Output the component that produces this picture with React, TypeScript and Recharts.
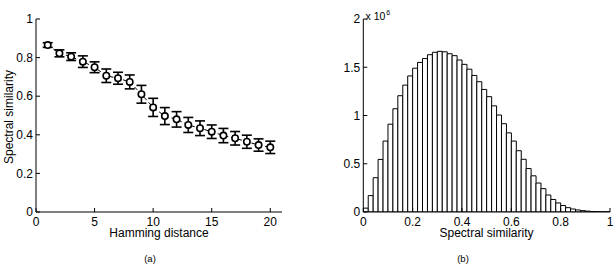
import React from "react";
import { Bar, ComposedChart, ErrorBar, Line, XAxis, YAxis } from "recharts";

// (a) spectral similarity vs hamming distance
const hamming = [1, 2, 3, 4, 5, 6, 7, 8, 9, 10, 11, 12, 13, 14, 15, 16, 17, 18, 19, 20];
const similarity = [
  0.865, 0.822, 0.805, 0.779, 0.75, 0.706, 0.693, 0.674, 0.61, 0.542,
  0.497, 0.48, 0.451, 0.434, 0.416, 0.396, 0.382, 0.364, 0.347, 0.335,
];
const similarityErr = [
  0.012, 0.018, 0.02, 0.03, 0.028, 0.035, 0.031, 0.036, 0.046, 0.047,
  0.044, 0.04, 0.039, 0.038, 0.035, 0.037, 0.035, 0.034, 0.032, 0.032,
];
const hammingTicks = [0, 5, 10, 15, 20];
const similarityTicks = [0, 0.2, 0.4, 0.6, 0.8, 1];

// (b) histogram of spectral similarity, bin centres, counts in units of 10^6
const binCenters = [
  0.01, 0.03, 0.05, 0.07, 0.09, 0.11, 0.13, 0.15, 0.17, 0.19,
  0.21, 0.23, 0.25, 0.27, 0.29, 0.31, 0.33, 0.35, 0.37, 0.39,
  0.41, 0.43, 0.45, 0.47, 0.49, 0.51, 0.53, 0.55, 0.57, 0.59,
  0.61, 0.63, 0.65, 0.67, 0.69, 0.71, 0.73, 0.75, 0.77, 0.79,
  0.81, 0.83, 0.85, 0.87, 0.89, 0.91, 0.93, 0.95, 0.97, 0.99,
];
const binCounts = [
  0.04, 0.17, 0.355, 0.545, 0.735, 0.91, 1.07, 1.205, 1.315, 1.41,
  1.49, 1.55, 1.59, 1.63, 1.655, 1.665, 1.66, 1.64, 1.62, 1.575,
  1.53, 1.48, 1.415, 1.35, 1.27, 1.195, 1.1, 1.005, 0.915, 0.82,
  0.735, 0.635, 0.546, 0.45, 0.375, 0.3, 0.242, 0.176, 0.13, 0.094,
  0.067, 0.045, 0.031, 0.021, 0.014, 0.009, 0.005, 0.003, 0.002, 0.001,
];
const spectralTicks = [0, 0.2, 0.4, 0.6, 0.8, 1];
const countTicks = [0, 0.5, 1, 1.5, 2];

const lineData = hamming.map((x, i) => ({ x, y: similarity[i], err: similarityErr[i] }));
const histData = binCenters.map((x, i) => ({ x, count: binCounts[i] }));

const font = '"Liberation Sans", Arial, Helvetica, sans-serif';
const tickStyle = { fontSize: 12, fill: "#000", fontFamily: font };
const axisLine = { stroke: "#000" };
const tickLine = { stroke: "#000" };

const label = (left: number, top: number, size = 12): React.CSSProperties => ({
  position: "absolute",
  left,
  top,
  transform: "translateX(-50%)",
  fontSize: size,
  lineHeight: `${size}px`,
  whiteSpace: "nowrap",
  color: "#000",
});

// Matlab-like box: inward ticks on all four sides
function BoxAxes({ xDomain, xTicks, yDomain, yTicks, yWidth }: any) {
  return (
    <>
      <XAxis
        type="number"
        dataKey="x"
        domain={xDomain}
        ticks={xTicks}
        interval={0}
        height={30}
        tickSize={-4}
        tickMargin={9}
        tick={tickStyle}
        axisLine={axisLine}
        tickLine={tickLine}
        allowDataOverflow
      />
      <XAxis
        xAxisId="top"
        orientation="top"
        type="number"
        dataKey="x"
        domain={xDomain}
        ticks={xTicks}
        interval={0}
        height={0}
        tickSize={-4}
        tick={false}
        axisLine={axisLine}
        tickLine={tickLine}
        allowDataOverflow
      />
      <YAxis
        type="number"
        domain={yDomain}
        ticks={yTicks}
        interval={0}
        width={yWidth}
        tickSize={-4}
        tickMargin={7}
        tick={tickStyle}
        axisLine={axisLine}
        tickLine={tickLine}
        allowDataOverflow
      />
      <YAxis
        yAxisId="right"
        orientation="right"
        type="number"
        domain={yDomain}
        ticks={yTicks}
        interval={0}
        width={0}
        tickSize={-4}
        tick={false}
        axisLine={axisLine}
        tickLine={tickLine}
        allowDataOverflow
      />
    </>
  );
}

export default function App() {
  return (
    <div
      style={{
        position: "absolute",
        left: 0,
        top: 0,
        width: 615,
        height: 266,
        background: "#fff",
        fontFamily: font,
        overflow: "hidden",
      }}
    >
      <div style={{ position: "absolute", left: 0, top: 0 }}>
        <ComposedChart
          width={300}
          height={266}
          data={lineData}
          margin={{ top: 19, right: 18, bottom: 24, left: 0 }}
        >
          {BoxAxes({ xDomain: [0, 21], xTicks: hammingTicks, yDomain: [0, 1], yTicks: similarityTicks, yWidth: 36 })}
          <Line
            dataKey="y"
            stroke="#000"
            strokeWidth={1}
            strokeDasharray="4 3"
            isAnimationActive={false}
            dot={{ r: 3.2, fill: "#fff", stroke: "#000", strokeWidth: 1.6, strokeDasharray: "none" }}
          >
            <ErrorBar dataKey="err" width={5} stroke="#000" strokeWidth={1.6} direction="y" />
          </Line>
        </ComposedChart>
      </div>

      <div style={{ position: "absolute", left: 300, top: 0 }}>
        <ComposedChart
          width={315}
          height={266}
          data={histData}
          barCategoryGap={0}
          barGap={0}
          margin={{ top: 19, right: 5, bottom: 24, left: 3.3 }}
        >
          {BoxAxes({ xDomain: [0, 1], xTicks: spectralTicks, yDomain: [0, 2], yTicks: countTicks, yWidth: 60 })}
          <Bar dataKey="count" fill="#fff" stroke="#000" strokeWidth={1} isAnimationActive={false} />
        </ComposedChart>
      </div>

      <div
        style={{
          position: "absolute",
          left: 8.5,
          top: 117,
          transform: "translate(-50%, -50%) rotate(-90deg)",
          fontSize: 12,
          lineHeight: "12px",
          whiteSpace: "nowrap",
        }}
      >
        Spectral similarity
      </div>
      <div style={label(159, 226.5)}>Hamming distance</div>
      <div style={label(486.5, 226.5)}>Spectral similarity</div>
      <div style={label(150, 253.5, 9.5)}>(a)</div>
      <div style={label(463, 253.5, 9.5)}>(b)</div>
      <div
        style={{
          position: "absolute",
          left: 365.5,
          top: 8,
          fontSize: 10.5,
          lineHeight: "10.5px",
          whiteSpace: "nowrap",
        }}
      >
        x 10<sup style={{ fontSize: 7, verticalAlign: "5px", marginLeft: 1 }}>6</sup>
      </div>
    </div>
  );
}
